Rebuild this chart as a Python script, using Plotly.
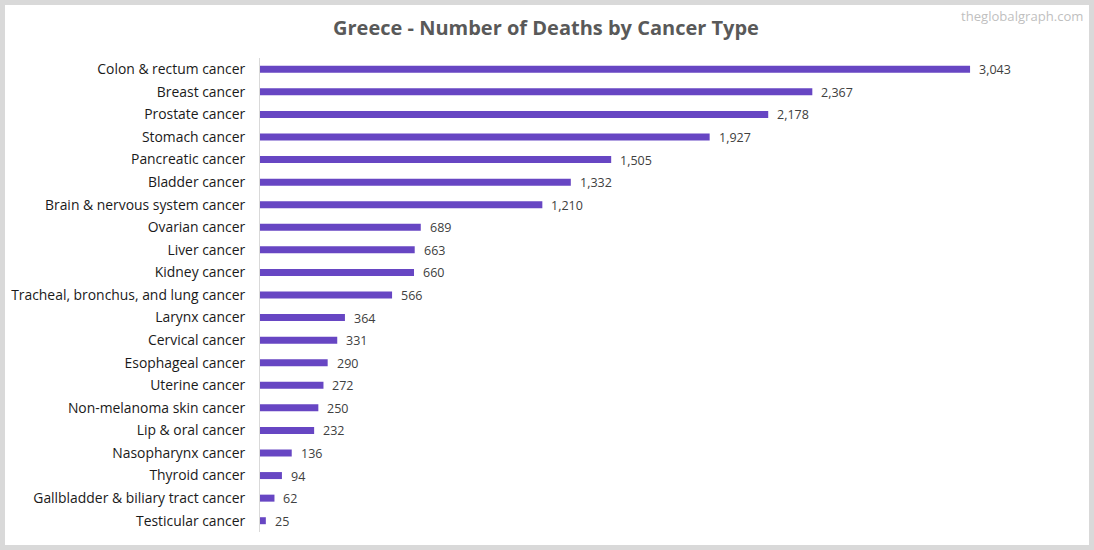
import plotly.graph_objects as go

categories = [
    "Colon & rectum cancer", "Breast cancer", "Prostate cancer", "Stomach cancer",
    "Pancreatic cancer", "Bladder cancer", "Brain & nervous system cancer",
    "Ovarian cancer", "Liver cancer", "Kidney cancer",
    "Tracheal, bronchus, and lung cancer", "Larynx cancer", "Cervical cancer",
    "Esophageal cancer", "Uterine cancer", "Non-melanoma skin cancer",
    "Lip & oral cancer", "Nasopharynx cancer", "Thyroid cancer",
    "Gallbladder & biliary tract cancer", "Testicular cancer",
]
deaths = [3043, 2367, 2178, 1927, 1505, 1332, 1210, 689, 663, 660, 566,
          364, 331, 290, 272, 250, 232, 136, 94, 62, 25]

FONT = "Open Sans, Noto Sans, sans-serif"
WIDTH, HEIGHT = 1094, 550

fig = go.Figure()
fig.add_trace(
    go.Bar(
        x=deaths,
        y=categories,
        orientation="h",
        marker=dict(color="#6746C3", line=dict(width=0)),
        width=0.31,
        hoverinfo="x+y",
    )
)

# Value labels sit a fixed distance past the bar end
for cat, val in zip(categories, deaths):
    fig.add_annotation(
        x=val, y=cat, text=f"{val:,}", showarrow=False,
        xanchor="left", xshift=7, yshift=-0.5,
        font=dict(family=FONT, size=12.5, color="#404040"),
    )

fig.add_annotation(
    xref="paper", yref="paper", x=1.0, y=1.0, yshift=42, xshift=9,
    text="theglobalgraph.com", showarrow=False, xanchor="right", yanchor="middle",
    font=dict(family=FONT, size=13.1, color="#BFBFBF"),
)

# Grey frame around the whole picture, drawn in pixels from the plot area
L, R, T, B = 260, 1094 - 1076, 58, 550 - 532
plot_w, plot_h = WIDTH - L - R, HEIGHT - T - B
fig.add_shape(
    type="rect", xref="paper", yref="paper", layer="above",
    x0=(2.5 - L) / plot_w, x1=(1091.5 - L) / plot_w,
    y0=(HEIGHT - 547.5 - B) / plot_h, y1=(HEIGHT - 2.5 - B) / plot_h,
    line=dict(color="#D9D9D9", width=5), fillcolor="rgba(0,0,0,0)",
)

fig.update_layout(
    title=dict(
        text="<b>Greece - Number of Deaths by Cancer Type</b>",
        x=546 / WIDTH, xanchor="center", y=1 - 28 / HEIGHT, yanchor="middle",
        font=dict(family=FONT, size=20, color="#595959"),
    ),
    width=WIDTH,
    height=HEIGHT,
    margin=dict(l=L, r=R, t=T, b=B, pad=0),
    paper_bgcolor="white",
    plot_bgcolor="white",
    showlegend=False,
    xaxis=dict(range=[0, 3497], visible=False, fixedrange=True),
    yaxis=dict(
        autorange="reversed",
        showline=True, linecolor="#D9D9D9", linewidth=1,
        ticks="", ticklabelstandoff=11, showgrid=False,
        tickfont=dict(family=FONT, size=13.9, color="#1A1A1A"),
        fixedrange=True,
    ),
)

fig.write_html(
    "out.html",
    config={"displayModeBar": False},
    post_script="document.body.style.margin='0';document.body.style.overflow='hidden';",
)
